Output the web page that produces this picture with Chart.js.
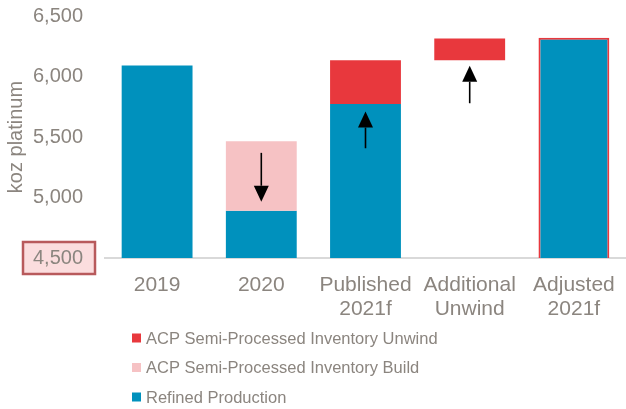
<!DOCTYPE html>
<html>
<head>
<meta charset="utf-8">
<script src="https://cdn.jsdelivr.net/npm/chart.js@4/dist/chart.umd.min.js"></script>
<style>
  html, body { margin: 0; padding: 0; background: #ffffff; }
  #wrap { width: 626px; height: 409px; position: relative; }
</style>
</head>
<body>
<div id="wrap"><canvas id="c"></canvas></div>
<script>
// ---- data ----
const categories = [["2019"], ["2020"], ["Published", "2021f"], ["Additional", "Unwind"], ["Adjusted", "2021f"]];
const refinedProduction = [6090, 4890, 5773, null, 6320];
const buildLow  = [null, 4890, null, null, null];
const buildHigh = [null, 5465, null, null, null];
const unwindLow  = [null, null, 5773, 6134, null];
const unwindHigh = [null, null, 6134, 6315, null];
const yTicks = [4500, 5000, 5500, 6000, 6500];
const arrowIndex = [1, 2, 3];
const arrowFrom  = [5369, 5407, 5779];
const arrowTo    = [4965, 5710, 6089];
const seriesNames = ["ACP Semi-Processed Inventory Unwind", "ACP Semi-Processed Inventory Build", "Refined Production"];

const BLUE = '#0091BD', RED = '#E8383D', PINK = '#F6C2C4', GREY = '#8B857F';
const FONT = '"Liberation Sans", Arial, sans-serif';

const pair = (lo, hi) => lo.map((v, i) => (v == null ? null : [v, hi[i]]));

const arrowsPlugin = {
  id: 'arrows',
  afterDatasetsDraw(chart) {
    const ctx = chart.ctx, x = chart.scales.x, y = chart.scales.y;
    ctx.save();
    ctx.strokeStyle = '#000'; ctx.fillStyle = '#000'; ctx.lineWidth = 1.6;
    arrowIndex.forEach((idx, k) => {
      const px = x.getPixelForValue(idx);
      const y0 = y.getPixelForValue(arrowFrom[k]);
      const y1 = y.getPixelForValue(arrowTo[k]);
      const dir = y1 > y0 ? 1 : -1;
      const headLen = 16, headHalf = 7.5;
      ctx.beginPath(); ctx.moveTo(px, y0); ctx.lineTo(px, y1 - dir * headLen); ctx.stroke();
      ctx.beginPath();
      ctx.moveTo(px, y1);
      ctx.lineTo(px - headHalf, y1 - dir * headLen);
      ctx.lineTo(px + headHalf, y1 - dir * headLen);
      ctx.closePath(); ctx.fill();
    });
    ctx.restore();
  }
};

const boxPlugin = {
  id: 'minBox',
  beforeDraw(chart) {
    const ctx = chart.ctx, y = chart.scales.y;
    const py = y.getPixelForValue(yTicks[0]);
    ctx.save();
    const bx = 23, bw = 72, bh = 32;
    ctx.fillStyle = '#FBDDDE';
    ctx.fillRect(bx, py - bh / 2, bw, bh);
    ctx.strokeStyle = '#B85A5C'; ctx.lineWidth = 2.5;
    ctx.strokeRect(bx, py - bh / 2, bw, bh);
    ctx.restore();
  }
};

const legendPlugin = {
  id: 'customLegend',
  afterDraw(chart) {
    const ctx = chart.ctx;
    const colors = [RED, PINK, BLUE];
    const base = chart.chartArea.bottom;
    ctx.save();
    ctx.font = '16.5px ' + FONT;
    ctx.textBaseline = 'middle';
    seriesNames.forEach((name, i) => {
      const cy = base + 80 + i * 29.5;
      ctx.fillStyle = colors[i];
      ctx.fillRect(132, cy - 4.5, 9, 9);
      ctx.fillStyle = GREY;
      ctx.fillText(name, 146, cy + 1);
    });
    ctx.restore();
  }
};

new Chart(document.getElementById('c'), {
  type: 'bar',
  data: {
    labels: categories,
    datasets: [
      { label: seriesNames[0], data: pair(unwindLow, unwindHigh), backgroundColor: RED, borderWidth: 0 },
      { label: seriesNames[1], data: pair(buildLow, buildHigh), backgroundColor: PINK, borderWidth: 0 },
      { label: seriesNames[2], data: refinedProduction, backgroundColor: BLUE,
        borderColor: RED, borderWidth: [0, 0, 0, 0, 2], borderSkipped: 'bottom' }
    ]
  },
  options: {
    responsive: true,
    maintainAspectRatio: false,
    animation: false,
    layout: { autoPadding: false, padding: { top: 16, right: 0, left: 0, bottom: 86 } },
    datasets: { bar: { categoryPercentage: 1, barPercentage: 0.68, grouped: false } },
    plugins: { legend: { display: false }, tooltip: { enabled: false } },
    scales: {
      x: {
        stacked: true,
        grid: { display: false, drawTicks: false },
        border: { display: true, color: '#D9D9D9', width: 2 },
        afterFit: (s) => { s.paddingLeft = 0; s.paddingRight = 0; s.height = 65; },
        ticks: { color: GREY, font: { family: FONT, size: 21, lineHeight: 1.14 }, padding: 15, maxRotation: 0, autoSkip: false }
      },
      y: {
        min: 4500, max: 6500,
        grid: { display: false, drawTicks: false },
        border: { display: false },
        afterBuildTicks: (s) => { s.ticks = yTicks.map(v => ({ value: v })); },
        afterFit: (s) => { s.width = 105; s.paddingTop = 0; s.paddingBottom = 0; },
        ticks: { color: GREY, font: { family: FONT, size: 20 }, padding: 22 },
        title: { display: true, text: 'koz platinum', color: GREY, font: { family: FONT, size: 20 }, padding: { top: 4, bottom: 4 } }
      }
    }
  },
  plugins: [arrowsPlugin, boxPlugin, legendPlugin]
});
</script>
</body>
</html>
